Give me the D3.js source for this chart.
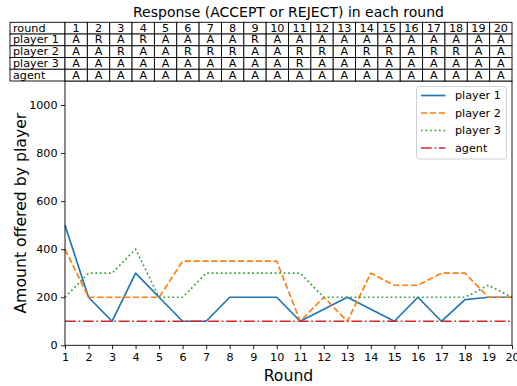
<!DOCTYPE html>
<html>
<head>
<meta charset="utf-8">
<script src="https://cdn.jsdelivr.net/npm/d3@7"></script>
<style>
  html, body { margin: 0; padding: 0; background: #fff; }
  svg { display: block; font-family: "DejaVu Sans", sans-serif; }
</style>
</head>
<body>
<svg id="chart" width="517" height="386"></svg>
<script>
// Rounds and offers per player
const rounds = [1, 2, 3, 4, 5, 6, 7, 8, 9, 10, 11, 12, 13, 14, 15, 16, 17, 18, 19, 20];
const player1 = [500, 200, 100, 300, 200, 100, 100, 200, 200, 200, 100, 150, 200, 150, 100, 200, 100, 190, 200, 200];
const player2 = [400, 200, 200, 200, 200, 350, 350, 350, 350, 350, 100, 200, 100, 300, 250, 250, 300, 300, 200, 200];
const player3 = [200, 300, 300, 400, 200, 200, 300, 300, 300, 300, 300, 200, 200, 200, 200, 200, 200, 200, 250, 200];
const agent   = [100, 100, 100, 100, 100, 100, 100, 100, 100, 100, 100, 100, 100, 100, 100, 100, 100, 100, 100, 100];

// Responses per round (A = accept, R = reject)
const resp1     = ["A","R","A","R","A","A","A","A","R","A","A","A","A","A","A","A","A","A","A","A"];
const resp2     = ["A","A","R","A","A","R","R","R","A","A","R","R","A","R","R","A","R","R","A","A"];
const resp3     = ["A","A","A","A","A","A","A","A","A","A","R","A","A","A","A","A","A","A","A","A"];
const respAgent = ["A","A","A","A","A","A","A","A","A","A","A","A","A","A","A","A","A","A","A","A"];

const yTicks = [0, 200, 400, 600, 800, 1000];
const seriesNames = ["player 1", "player 2", "player 3", "agent"];

const series = [
  { name: seriesNames[0], values: player1, color: "#1f77b4", dash: null },
  { name: seriesNames[1], values: player2, color: "#ff7f0e", dash: "6.2,2.7" },
  { name: seriesNames[2], values: player3, color: "#2ca02c", dash: "1.7,2.8" },
  { name: seriesNames[3], values: agent,   color: "#d62728", dash: "10.8,2.7,1.7,2.7" }
];

const svg = d3.select("#chart");
const L = 65, R = 512, T = 81, B = 345.3;

const x = d3.scaleLinear().domain([1, 20]).range([L, R]);
const y = d3.scaleLinear().domain([0, 1100]).range([B, T]);

// Lines
const line = d3.line().x((d, i) => x(rounds[i])).y(d => y(d));
const plot = svg.append("g");
series.forEach(s => {
  plot.append("path")
    .datum(s.values)
    .attr("d", line)
    .attr("fill", "none")
    .attr("stroke", s.color)
    .attr("stroke-width", 1.7)
    .attr("stroke-dasharray", s.dash)
    .attr("stroke-linejoin", "round");
});

// Axes
const xAxis = d3.axisBottom(x).tickValues(rounds).tickFormat(d3.format("d")).tickSize(3.9).tickPadding(3.5);
const yAxis = d3.axisLeft(y).tickValues(yTicks).tickFormat(d3.format("d")).tickSize(3.9).tickPadding(3.5);

const gx = svg.append("g").attr("transform", `translate(0,${B})`).call(xAxis);
const gy = svg.append("g").attr("transform", `translate(${L},0)`).call(yAxis);
[gx, gy].forEach(g => {
  g.select(".domain").remove();
  g.selectAll("text").attr("font-size", 11.2).attr("font-family", "DejaVu Sans").attr("fill", "#000");
  g.selectAll("line").attr("stroke", "#000").attr("stroke-width", 0.9);
});

// Frame
svg.append("rect")
  .attr("x", L).attr("y", T).attr("width", R - L).attr("height", B - T)
  .attr("fill", "none").attr("stroke", "#000").attr("stroke-width", 0.9);

// Axis labels
svg.append("text")
  .attr("x", (L + R) / 2).attr("y", 380.5)
  .attr("text-anchor", "middle").attr("font-size", 15.7)
  .text("Round");
svg.append("text")
  .attr("transform", `translate(21,${(T + B) / 2}) rotate(-90)`)
  .attr("text-anchor", "middle").attr("dominant-baseline", "middle").attr("font-size", 15.7)
  .text("Amount offered by player");

// Title
svg.append("text")
  .attr("x", (L + R) / 2).attr("y", 17)
  .attr("text-anchor", "middle").attr("font-size", 14)
  .text("Response (ACCEPT or REJECT) in each round");

// Response table above the plot
const tableTop = 22.3, rowH = 11.74, labelLeft = 10;
const colW = (R - L) / rounds.length;
const tableRows = [
  { label: "round", cells: rounds.map(String) },
  { label: seriesNames[0], cells: resp1 },
  { label: seriesNames[1], cells: resp2 },
  { label: seriesNames[2], cells: resp3 },
  { label: seriesNames[3], cells: respAgent }
];
const table = svg.append("g");
tableRows.forEach((row, r) => {
  const yTop = tableTop + r * rowH;
  table.append("rect")
    .attr("x", labelLeft).attr("y", yTop).attr("width", L - labelLeft).attr("height", rowH)
    .attr("fill", "#fff").attr("stroke", "#000").attr("stroke-width", 0.9);
  table.append("text")
    .attr("x", labelLeft + 3).attr("y", yTop + rowH / 2)
    .attr("dominant-baseline", "central").attr("font-size", 11.2)
    .text(row.label);
  row.cells.forEach((c, i) => {
    const cx = L + i * colW;
    table.append("rect")
      .attr("x", cx).attr("y", yTop).attr("width", colW).attr("height", rowH)
      .attr("fill", "#fff").attr("stroke", "#000").attr("stroke-width", 0.9);
    table.append("text")
      .attr("x", cx + colW / 2).attr("y", yTop + rowH / 2)
      .attr("text-anchor", "middle").attr("dominant-baseline", "central").attr("font-size", 11.2)
      .text(c);
  });
});

// Legend
const lg = svg.append("g");
lg.append("rect")
  .attr("x", 416.5).attr("y", 86.5).attr("width", 90).attr("height", 72.5)
  .attr("rx", 2.5).attr("fill", "#fff").attr("fill-opacity", 0.8)
  .attr("stroke", "#cccccc").attr("stroke-width", 0.9);
const legendY = [95.5, 113, 130.5, 148];
series.forEach((s, i) => {
  lg.append("line")
    .attr("x1", 421).attr("x2", 445.5).attr("y1", legendY[i]).attr("y2", legendY[i])
    .attr("stroke", s.color).attr("stroke-width", 1.7).attr("stroke-dasharray", s.dash);
  lg.append("text")
    .attr("x", 455).attr("y", legendY[i])
    .attr("dominant-baseline", "central").attr("font-size", 11.2)
    .text(s.name);
});
</script>
</body>
</html>
